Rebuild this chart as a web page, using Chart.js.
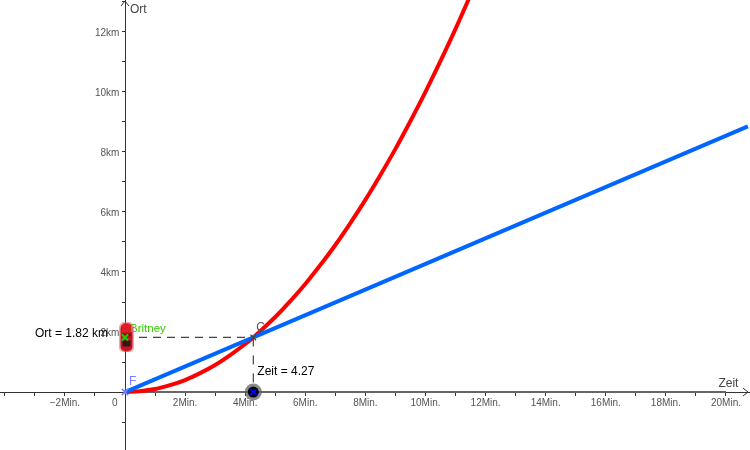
<!DOCTYPE html>
<html><head><meta charset="utf-8">
<style>html,body{margin:0;padding:0;background:#fff}canvas{display:block}</style>
<script src="https://cdn.jsdelivr.net/npm/chart.js@4"></script>
</head><body><canvas id="c" width="750" height="450"></canvas>
<script>
const redTime=[0,0.5,1,1.5,2,2.5,3,3.5,4,4.27,5,5.5,6,6.5,7,7.5,8,8.5,9,9.5,10,10.5,11,11.6];
const redDist=[0,0.03,0.1,0.23,0.4,0.63,0.9,1.23,1.6,1.82,2.5,3.03,3.6,4.23,4.9,5.63,6.4,7.23,8.1,9.03,10,11.03,12.1,13.46];
const blueTime=[0,4.27,20.73];
const blueDist=[0,1.82,8.85];
const sliderTime=[0,20];
const sliderDist=[0,0];
const currentTime=4.27, currentDist=1.82;
const xTickEvery=2, yTickEvery=2;
const pts=(a,b)=>a.map((v,i)=>({x:v,y:b[i]}));

const car=document.createElement('canvas');car.width=18;car.height=30;
(function(){const g=car.getContext('2d');
 g.fillStyle='rgba(225,110,120,.6)';g.beginPath();g.roundRect(3,0,15,30,5);g.fill();
 g.fillStyle='#c8141e';g.beginPath();g.roundRect(4.5,1,12,28,5);g.fill();
 g.fillStyle='#e01c26';g.fillRect(6,2,9,8);
 g.fillStyle='#7a1016';g.fillRect(6,11,9,3);
 g.fillStyle='#2a1a1a';g.fillRect(6.5,18,8,6);
})();

const labels=[
 {t:'Ort = 1.82 km',x:-3,y:1.94,dx:0,font:'12px "Liberation Sans"',c:'#000',a:'left',px:35},
 {t:'Britney',x:0,y:2.12,dx:5,font:'11.5px "Liberation Sans"',c:'#33cc00',a:'left'},
 {t:'C',x:currentTime,y:2.15,dx:3,font:'12px "Liberation Sans"',c:'#555',a:'left'},
 {t:'F',x:0,y:0.36,dx:4,font:'12px "Liberation Sans"',c:'#7d7dff',a:'left'},
 {t:'Zeit = 4.27',x:currentTime,y:0.67,dx:4,font:'12px "Liberation Sans"',c:'#000',a:'left'},
 {t:'Ort',x:0,y:12.73,dx:5,font:'12px "Liberation Sans"',c:'#444',a:'left'},
 {t:'Zeit',x:19.75,y:0.27,dx:0,font:'12px "Liberation Sans"',c:'#444',a:'left'},
 {t:'0',x:0,y:-0.37,dx:-13,font:'10px "Liberation Sans"',c:'#555',a:'left'}
];

const deco={id:'deco',afterDatasetsDraw(ch){
 const g=ch.ctx,X=ch.scales.x,Y=ch.scales.y,x0=X.getPixelForValue(0),y0=Y.getPixelForValue(0);
 g.save();
 g.strokeStyle='#333';g.lineWidth=1;
 g.beginPath();g.moveTo(x0-4,6);g.lineTo(x0,1);g.lineTo(x0+4,6);
 g.moveTo(743,y0-4);g.lineTo(748,y0);g.lineTo(743,y0+4);g.stroke();
 g.textBaseline='middle';
 labels.forEach(l=>{g.font=l.font;g.fillStyle=l.c;g.textAlign=l.a;
  const px=l.px!==undefined?l.px:X.getPixelForValue(l.x)+l.dx;
  g.fillText(l.t,px,Y.getPixelForValue(l.y));});
 g.restore();
}};
const noPad=s=>{s.paddingTop=0;s.paddingBottom=0;s.paddingLeft=0;s.paddingRight=0;};

new Chart(document.getElementById('c'),{
 type:'scatter',
 data:{datasets:[
  {data:pts(sliderTime,sliderDist),showLine:true,borderColor:'#666',borderWidth:2,pointRadius:0,order:9},
  {data:[{x:0,y:currentDist},{x:currentTime,y:currentDist}],showLine:true,borderColor:'#444',borderWidth:1.2,borderDash:[8,6],pointRadius:0,order:8},
  {data:[{x:currentTime,y:currentDist},{x:currentTime,y:0}],showLine:true,borderColor:'#444',borderWidth:1.2,borderDash:[9,9],pointRadius:0,order:8},
  {data:pts(redTime,redDist),showLine:true,borderColor:'#ff0000',borderWidth:4,cubicInterpolationMode:'monotone',pointRadius:0,order:7},
  {data:pts(blueTime,blueDist),showLine:true,borderColor:'#0066ff',borderWidth:4,pointRadius:0,order:6},
  {data:[{x:currentTime,y:0}],pointStyle:'circle',pointRadius:8.5,backgroundColor:'rgba(90,90,90,.7)',borderWidth:0,order:5},
  {data:[{x:currentTime,y:0}],pointStyle:'circle',pointRadius:5.5,backgroundColor:'#000',borderWidth:0,order:4},
  {data:[{x:currentTime,y:0}],pointStyle:'crossRot',pointRadius:4.5,borderColor:'#0000ff',borderWidth:1.8,order:3},
  {data:[{x:0,y:currentDist}],pointStyle:car,order:5},
  {data:[{x:0,y:currentDist}],pointStyle:'crossRot',pointRadius:4.5,borderColor:'#22cc00',borderWidth:2,order:2},
  {data:[{x:currentTime,y:currentDist}],pointStyle:'crossRot',pointRadius:4,borderColor:'#444',borderWidth:1.2,order:2},
  {data:[{x:0,y:0}],pointStyle:'crossRot',pointRadius:4.5,borderColor:'#7d7dff',borderWidth:1.6,order:2}
 ]},
 plugins:[deco],
 options:{responsive:false,animation:false,
  layout:{padding:0,autoPadding:false},
  plugins:{legend:{display:false},tooltip:{enabled:false}},
  scales:{
   x:{type:'linear',min:-4.16,max:20.8,position:{y:0},afterFit:noPad,
    border:{color:'#333',width:1},
    grid:{drawOnChartArea:false,drawTicks:true,tickLength:3,tickColor:'#333'},
    ticks:{stepSize:1,includeBounds:false,autoSkip:false,maxRotation:0,padding:2,color:'#555',
     font:{family:'"Liberation Sans"',size:10},
     callback:v=>(v===0||v<=-4||v%xTickEvery!==0)?'':(v<0?'\u2212':'')+Math.abs(v)+'Min.'}},
   y:{type:'linear',min:-1.93,max:13.06,position:{x:0},afterFit:noPad,
    border:{color:'#333',width:1},
    grid:{drawOnChartArea:false,drawTicks:true,tickLength:3,tickColor:'#333'},
    ticks:{stepSize:1,includeBounds:false,autoSkip:false,padding:3,labelOffset:1,color:'#555',
     font:{family:'"Liberation Sans"',size:10},
     callback:v=>(v<=0||v%yTickEvery!==0)?'':v+'km\u00a0\u00a0'}}
  }}
});
</script></body></html>
